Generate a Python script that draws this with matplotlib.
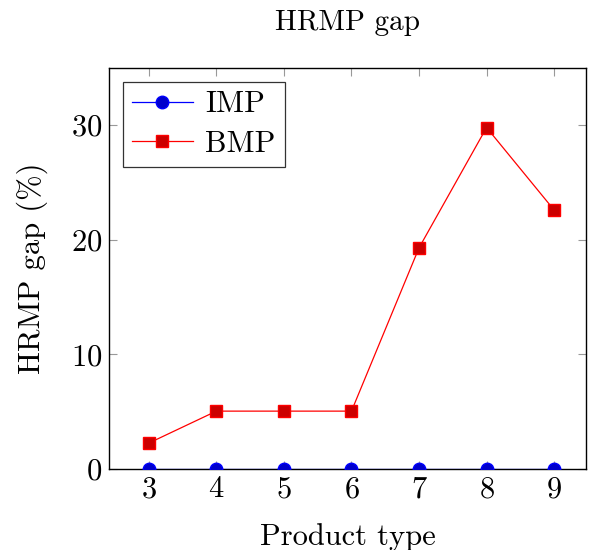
import matplotlib
matplotlib.use("Agg")
import matplotlib.pyplot as plt

plt.rcParams['font.family'] = 'serif'
plt.rcParams['font.serif'] = ['cmr10']
plt.rcParams['mathtext.fontset'] = 'cm'
plt.rcParams['axes.formatter.use_mathtext'] = True

product_type = [3, 4, 5, 6, 7, 8, 9]
imp_gap = [0, 0, 0, 0, 0, 0, 0]
bmp_gap = [2.26, 5.05, 5.05, 5.05, 19.3, 29.8, 22.6]

fig = plt.figure(figsize=(5.9, 5.5), dpi=100)
ax = fig.add_axes([0.1847, 0.1473, 0.8083, 0.7291])

ax.plot(product_type, imp_gap, color='blue', linewidth=0.9, marker='o',
        markersize=9, markerfacecolor=(0, 0, 0.8), markeredgecolor='blue',
        label='IMP', zorder=3)
ax.plot(product_type, bmp_gap, color='red', linewidth=0.9, marker='s',
        markersize=8, markerfacecolor=(0.8, 0, 0), markeredgecolor='red',
        label='BMP', zorder=3)

ax.set_xlim(2.41, 9.47)
ax.set_ylim(0, 35)
ax.set_xticks(product_type)
ax.set_yticks([0, 10, 20, 30])
ax.tick_params(direction='in', length=6, width=0.8, color='#999999',
               top=True, right=True, labelsize=22, pad=5)
for s in ax.spines.values():
    s.set_linewidth(1.0)

ax.set_xlabel('Product type', fontsize=22, labelpad=14)
ax.set_ylabel('HRMP gap (%)', fontsize=22, labelpad=16)
ax.set_title('HRMP gap', fontsize=21, pad=27)

leg = ax.legend(loc='upper left', fontsize=22, frameon=True, fancybox=False,
                edgecolor='black', borderaxespad=0.45, handlelength=2.0,
                handletextpad=0.4, borderpad=0.3, labelspacing=0.4)
leg.get_frame().set_linewidth(0.9)

fig.savefig('out.png', dpi=100)
